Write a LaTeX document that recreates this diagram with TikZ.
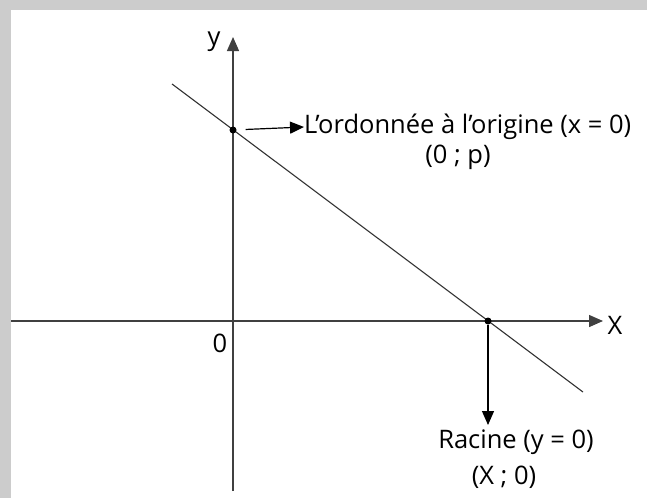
\documentclass[tikz,border=0pt]{standalone}
\usepackage{fontspec}
\setmainfont{Open Sans}
\usetikzlibrary{arrows.meta}
\begin{document}
\begin{tikzpicture}[x=1pt,y=-1pt,
  axis/.style={draw=black!75, line width=1.4pt},
  tip/.style={-{Triangle[length=14pt,width=12pt]}},
  dot/.style={circle,fill=black,inner sep=0pt,minimum size=7pt},
  lbl/.style={font=\fontsize{25.5}{30}\selectfont, inner sep=0pt}]
\fill[black!20] (0,0) rectangle (647,498);
\fill[white] (11,10) rectangle (647,498);
\useasboundingbox (0,0) rectangle (647,498);
\coordinate (xl) at (11,321);
\coordinate (xr) at (603,321);
\coordinate (yb) at (233,491);
\coordinate (yt) at (233,37);
\draw[axis,tip] (xl) -- (xr);
\draw[axis,tip] (yb) -- (yt);
\coordinate (ls) at (172,84);
\coordinate (le) at (583,392);
\draw[line width=1.1pt, black!80] (ls) -- (le);
\node[dot] (p) at (233,130) {};
\node[dot] (r) at (488,321) {};
\node[lbl, anchor=west] (ord) at (304,127) {L’ordonnée à l’origine (x = 0)};
\node[lbl] (op) at (458,157) {(0 ; p)};
\node[lbl] (rac) at (516,442) {Racine (y = 0)};
\node[lbl] (xz) at (504,477) {(X ; 0)};
\node[lbl] (zero) at (220,343) {0};
\node[lbl] (xlab) at (615,325) {X};
\node[lbl] (ylab) at (214,42) {y};
\coordinate (rt) at (488,425);
\draw[line width=1.2pt, tip, shorten <=9pt] (p) -- (ord.west);
\draw[line width=1.2pt, tip] (r) -- (rt);
\end{tikzpicture}
\end{document}
